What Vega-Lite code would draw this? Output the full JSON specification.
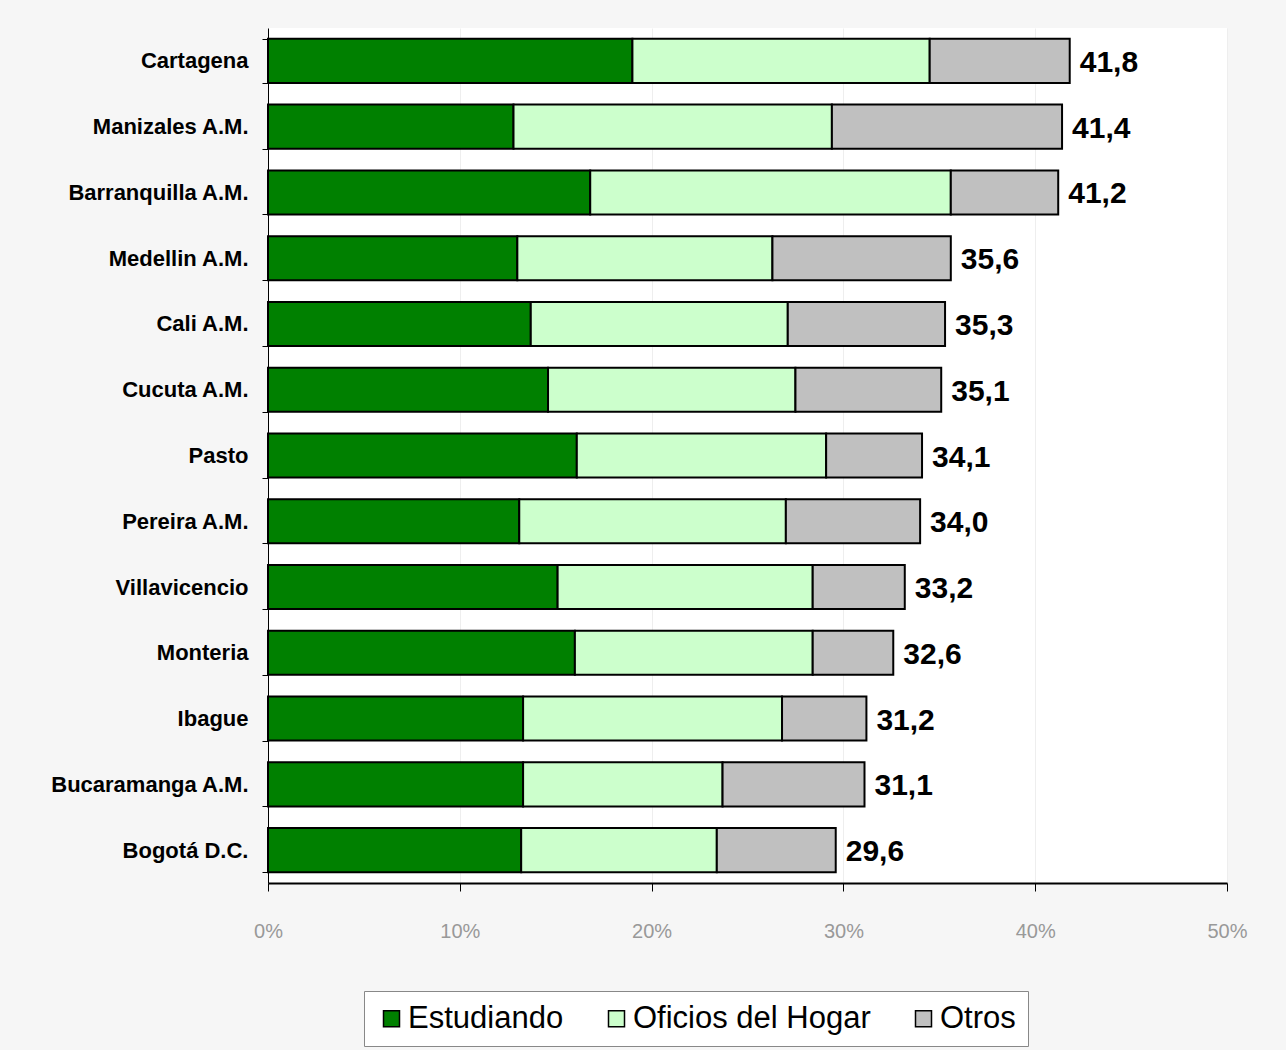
{
  "$schema": "https://vega.github.io/schema/vega-lite/v6.json",
  "width": 959,
  "height": 855,
  "autosize": {"type": "none"},
  "padding": {"left": 268, "top": 28, "right": 59, "bottom": 167},
  "background": "#f6f6f6",
  "config": {
    "font": "Liberation Sans",
    "view": {"fill": "white", "stroke": null}
  },
  "datasets": {
    "parts": [
      {"city": "Cartagena", "category": "Estudiando", "value": 19.0},
      {"city": "Cartagena", "category": "Oficios del Hogar", "value": 15.5},
      {"city": "Cartagena", "category": "Otros", "value": 7.3},
      {"city": "Manizales A.M.", "category": "Estudiando", "value": 12.8},
      {"city": "Manizales A.M.", "category": "Oficios del Hogar", "value": 16.6},
      {"city": "Manizales A.M.", "category": "Otros", "value": 12.0},
      {"city": "Barranquilla A.M.", "category": "Estudiando", "value": 16.8},
      {"city": "Barranquilla A.M.", "category": "Oficios del Hogar", "value": 18.8},
      {"city": "Barranquilla A.M.", "category": "Otros", "value": 5.6},
      {"city": "Medellin A.M.", "category": "Estudiando", "value": 13.0},
      {"city": "Medellin A.M.", "category": "Oficios del Hogar", "value": 13.3},
      {"city": "Medellin A.M.", "category": "Otros", "value": 9.3},
      {"city": "Cali A.M.", "category": "Estudiando", "value": 13.7},
      {"city": "Cali A.M.", "category": "Oficios del Hogar", "value": 13.4},
      {"city": "Cali A.M.", "category": "Otros", "value": 8.2},
      {"city": "Cucuta A.M.", "category": "Estudiando", "value": 14.6},
      {"city": "Cucuta A.M.", "category": "Oficios del Hogar", "value": 12.9},
      {"city": "Cucuta A.M.", "category": "Otros", "value": 7.6},
      {"city": "Pasto", "category": "Estudiando", "value": 16.1},
      {"city": "Pasto", "category": "Oficios del Hogar", "value": 13.0},
      {"city": "Pasto", "category": "Otros", "value": 5.0},
      {"city": "Pereira A.M.", "category": "Estudiando", "value": 13.1},
      {"city": "Pereira A.M.", "category": "Oficios del Hogar", "value": 13.9},
      {"city": "Pereira A.M.", "category": "Otros", "value": 7.0},
      {"city": "Villavicencio", "category": "Estudiando", "value": 15.1},
      {"city": "Villavicencio", "category": "Oficios del Hogar", "value": 13.3},
      {"city": "Villavicencio", "category": "Otros", "value": 4.8},
      {"city": "Monteria", "category": "Estudiando", "value": 16.0},
      {"city": "Monteria", "category": "Oficios del Hogar", "value": 12.4},
      {"city": "Monteria", "category": "Otros", "value": 4.2},
      {"city": "Ibague", "category": "Estudiando", "value": 13.3},
      {"city": "Ibague", "category": "Oficios del Hogar", "value": 13.5},
      {"city": "Ibague", "category": "Otros", "value": 4.4},
      {"city": "Bucaramanga A.M.", "category": "Estudiando", "value": 13.3},
      {"city": "Bucaramanga A.M.", "category": "Oficios del Hogar", "value": 10.4},
      {"city": "Bucaramanga A.M.", "category": "Otros", "value": 7.4},
      {"city": "Bogotá D.C.", "category": "Estudiando", "value": 13.2},
      {"city": "Bogotá D.C.", "category": "Oficios del Hogar", "value": 10.2},
      {"city": "Bogotá D.C.", "category": "Otros", "value": 6.2}
    ],
    "totals": [
      {"city": "Cartagena", "total": 41.8, "label": "41,8"},
      {"city": "Manizales A.M.", "total": 41.4, "label": "41,4"},
      {"city": "Barranquilla A.M.", "total": 41.2, "label": "41,2"},
      {"city": "Medellin A.M.", "total": 35.6, "label": "35,6"},
      {"city": "Cali A.M.", "total": 35.3, "label": "35,3"},
      {"city": "Cucuta A.M.", "total": 35.1, "label": "35,1"},
      {"city": "Pasto", "total": 34.1, "label": "34,1"},
      {"city": "Pereira A.M.", "total": 34.0, "label": "34,0"},
      {"city": "Villavicencio", "total": 33.2, "label": "33,2"},
      {"city": "Monteria", "total": 32.6, "label": "32,6"},
      {"city": "Ibague", "total": 31.2, "label": "31,2"},
      {"city": "Bucaramanga A.M.", "total": 31.1, "label": "31,1"},
      {"city": "Bogotá D.C.", "total": 29.6, "label": "29,6"}
    ]
  },
  "layer": [
    {
      "data": {"name": "parts"},
      "mark": {"type": "bar", "stroke": "black", "strokeWidth": 2},
      "encoding": {
        "y": {
          "field": "city",
          "type": "nominal",
          "sort": null,
          "scale": {"paddingInner": 0.33, "paddingOuter": 0.165},
          "axis": {
            "title": null,
            "labelFontSize": 22,
            "labelFontWeight": "bold",
            "labelColor": "black",
            "labelPadding": 14,
            "tickBand": "extent",
            "tickSize": 6,
            "tickColor": "black",
            "domainColor": "black",
            "domainWidth": 1,
            "labelLimit": 0
          }
        },
        "x": {
          "field": "value",
          "type": "quantitative",
          "stack": "zero",
          "scale": {"domain": [0, 50], "nice": false},
          "axis": {
            "title": null,
            "values": [0, 10, 20, 30, 40, 50],
            "labelExpr": "datum.value + '%'",
            "labelFlush": false,
            "labelFontSize": 20,
            "labelColor": "#999999",
            "labelPadding": 30,
            "tickSize": 8,
            "tickColor": "black",
            "domainColor": "black",
            "domainWidth": 2,
            "gridColor": "#eeeeee",
            "grid": true
          }
        },
        "color": {
          "field": "category",
          "type": "nominal",
          "scale": {
            "domain": ["Estudiando", "Oficios del Hogar", "Otros"],
            "range": ["#008000", "#ccffcc", "#c0c0c0"]
          },
          "legend": {
            "title": null,
            "orient": "none",
            "direction": "horizontal",
            "legendX": 96,
            "legendY": 963,
            "fillColor": "white",
            "strokeColor": "#888888",
            "padding": 12,
            "symbolType": "square",
            "symbolSize": 256,
            "symbolStrokeColor": "black",
            "symbolStrokeWidth": 1.5,
            "labelFontSize": 31,
            "labelColor": "black",
            "labelOffset": 1,
            "labelLimit": 0,
            "columnPadding": 37
          }
        }
      }
    },
    {
      "data": {"name": "totals"},
      "mark": {"type": "text", "align": "left", "baseline": "middle", "dx": 10, "dy": 2, "fontSize": 30, "fontWeight": "bold", "color": "black"},
      "encoding": {
        "y": {"field": "city", "type": "nominal", "sort": null},
        "x": {"field": "total", "type": "quantitative"},
        "text": {"field": "label"}
      }
    }
  ]
}
